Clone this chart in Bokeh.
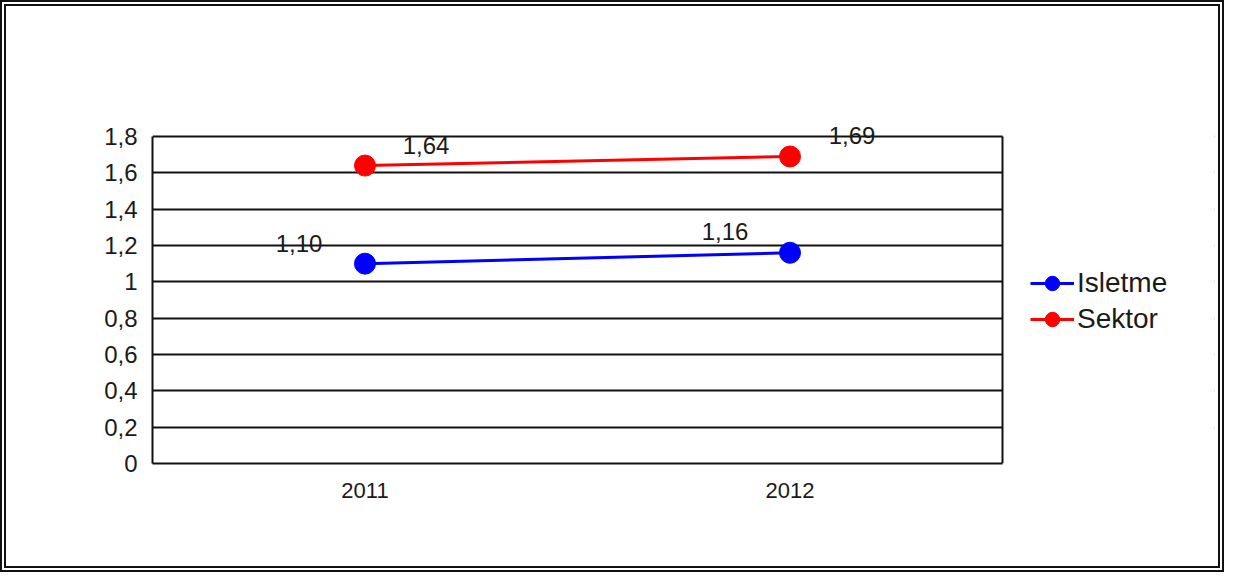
from bokeh.plotting import figure
from bokeh.models import (ColumnDataSource, Range1d, FixedTicker,
                          Legend, LegendItem, BoxAnnotation)
from bokeh.core.properties import value
from bokeh.embed import file_html
from bokeh.resources import INLINE

# ---- data ----
years = ["2011", "2012"]
isletme = [1.10, 1.16]
sektor = [1.64, 1.69]
series_names = ["Isletme", "Sektor"]
y_ticks = [0, 0.2, 0.4, 0.6, 0.8, 1.0, 1.2, 1.4, 1.6, 1.8]
y_tick_labels = ["0", "0,2", "0,4", "0,6", "0,8", "1", "1,2", "1,4", "1,6", "1,8"]
Y_MAX = 1.8

FONT = "Liberation Sans"
INK = "#111111"
TXT = "#1a1a1a"

def fmt(v):
    return f"{v:.2f}".replace(".", ",")

# category slots: each year occupies one unit, centred at i + 0.5
x_pos = [i + 0.5 for i in range(len(years))]
X_BOX = float(len(years))

# plot box 850 x 327 px; extra frame room above (value label) and right (legend)
BOX_W, BOX_H = 850, 327
HEAD, SIDE = 18, 212
y_top = Y_MAX * (BOX_H + HEAD) / BOX_H
x_end = X_BOX * (BOX_W + SIDE) / BOX_W

p = figure(x_range=Range1d(0, x_end), y_range=Range1d(0, y_top),
           frame_width=BOX_W + SIDE, frame_height=BOX_H + HEAD,
           min_border_left=146, min_border_top=112, min_border_bottom=103,
           min_border_right=4,
           output_backend="svg", toolbar_location=None)
p.styles = {"border": "6px double #111111"}

p.outline_line_color = None
p.xgrid.grid_line_color = None
p.ygrid.grid_line_color = INK
p.ygrid.grid_line_width = 2
p.ygrid.ticker = FixedTicker(ticks=y_ticks)

# white mask so the grid stops at the right edge of the plot box
p.add_layout(BoxAnnotation(left=X_BOX, right=x_end * 1.05, fill_color="white",
                           fill_alpha=1, line_color=None, level="underlay"))

p.yaxis.ticker = FixedTicker(ticks=y_ticks)
p.yaxis.bounds = (0, Y_MAX)
p.yaxis.major_label_overrides = {t: l for t, l in zip(y_ticks, y_tick_labels)}
p.yaxis.axis_line_color = INK
p.yaxis.axis_line_width = 2
p.yaxis.major_tick_line_color = None
p.yaxis.minor_tick_line_color = None
p.yaxis.major_label_standoff = 9
p.yaxis.major_label_text_font = FONT
p.yaxis.major_label_text_font_size = "24px"
p.yaxis.major_label_text_color = TXT

p.xaxis.ticker = FixedTicker(ticks=x_pos)
p.xaxis.major_label_overrides = {x: y for x, y in zip(x_pos, years)}
p.xaxis.bounds = (0, X_BOX)
p.xaxis.axis_line_color = INK
p.xaxis.axis_line_width = 2
p.xaxis.major_tick_line_color = None
p.xaxis.minor_tick_line_color = None
p.xaxis.major_label_standoff = 13
p.xaxis.major_label_text_font = FONT
p.xaxis.major_label_text_font_size = "22px"
p.xaxis.major_label_text_color = TXT

# right edge of the plot box
p.segment(x0=[X_BOX], y0=[0], x1=[X_BOX], y1=[Y_MAX], line_color=INK, line_width=2)

colors = ["#0000ff", "#ff0000"]
label_offsets = [[(-66, -20), (-65, -21)], [(61, -20), (62, -21)]]

items = []
for name, vals, col, offs in zip(series_names, [isletme, sektor], colors, label_offsets):
    src = ColumnDataSource(dict(x=x_pos, y=vals, lab=[fmt(v) for v in vals],
                                dx=[o[0] for o in offs], dy=[o[1] for o in offs]))
    lr = p.line("x", "y", source=src, line_color=col, line_width=3)
    cr = p.scatter("x", "y", source=src, size=21, fill_color=col, line_color=col)
    p.text("x", "y", text="lab", source=src, x_offset="dx", y_offset="dy",
           text_align="center", text_baseline="middle",
           text_font=value(FONT), text_font_size="24px", text_color=TXT)
    items.append(LegendItem(label=name, renderers=[lr, cr]))

legend = Legend(items=items, location=(878, 126), padding=0, margin=0,
                border_line_color=None, background_fill_alpha=0,
                glyph_width=44, glyph_height=36, label_height=36,
                label_standoff=3, spacing=0,
                label_text_font=FONT, label_text_font_size="28px",
                label_text_color=TXT)
p.add_layout(legend)

open("out.html", "w").write(file_html(p, INLINE))
